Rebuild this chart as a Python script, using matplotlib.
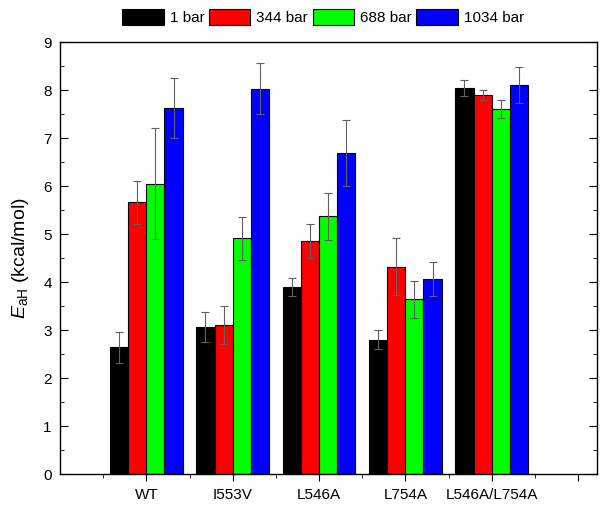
import numpy as np
import matplotlib
matplotlib.use('Agg')
from matplotlib import pyplot as plt
from matplotlib.ticker import MultipleLocator, FixedLocator

plt.rcParams['font.family'] = ['Liberation Sans', 'DejaVu Sans']
plt.rcParams['mathtext.fontset'] = 'custom'
plt.rcParams['mathtext.rm'] = 'Liberation Sans'
plt.rcParams['mathtext.it'] = 'Liberation Sans:italic'

# Data
categories = ['WT', 'I553V', 'L546A', 'L754A', 'L546A/L754A']
series = ['1 bar', '344 bar', '688 bar', '1034 bar']
colors = ['#000000', '#ff0000', '#00ff00', '#0000ff']

bar_1 = [2.64, 3.06, 3.90, 2.80, 8.04]
bar_344 = [5.66, 3.10, 4.86, 4.32, 7.89]
bar_688 = [6.05, 4.91, 5.37, 3.64, 7.60]
bar_1034 = [7.63, 8.03, 6.68, 4.06, 8.10]

err_1 = [0.32, 0.32, 0.19, 0.19, 0.17]
err_344 = [0.45, 0.40, 0.35, 0.60, 0.10]
err_688 = [1.16, 0.45, 0.49, 0.39, 0.19]
err_1034 = [0.63, 0.54, 0.69, 0.36, 0.38]

values = [bar_1, bar_344, bar_688, bar_1034]
errors = [err_1, err_344, err_688, err_1034]

fig = plt.figure(figsize=(6.04, 5.11), dpi=100)
ax = fig.add_axes([60 / 604, 1 - 474 / 511, 537 / 604, 432 / 511])

x = np.arange(1, len(categories) + 1)
width = 0.21
for i, (vals, errs) in enumerate(zip(values, errors)):
    pos = x + (i - 1.5) * width
    ax.bar(pos, vals, width, color=colors[i], edgecolor='black', linewidth=0.8,
           label=series[i], zorder=2)
    ax.errorbar(pos, vals, yerr=errs, fmt='none', ecolor='#606060',
                elinewidth=0.8, capsize=3, capthick=0.8, zorder=3)

ax.set_xlim(0, 6.22)
ax.set_ylim(0, 9)
ax.xaxis.set_major_locator(FixedLocator([1, 2, 3, 4, 5, 6]))
ax.set_xticklabels(categories + [''])
ax.xaxis.set_minor_locator(FixedLocator([0.5, 1.5, 2.5, 3.5, 4.5, 5.5]))
ax.yaxis.set_major_locator(MultipleLocator(1))
ax.yaxis.set_minor_locator(MultipleLocator(0.5))

ax.tick_params(axis='x', which='both', direction='out', top=False, labelsize=11)
ax.tick_params(axis='x', which='major', length=5, pad=5)
ax.tick_params(axis='x', which='minor', length=3)
ax.tick_params(axis='y', which='both', direction='in', right=True, labelsize=11)
ax.tick_params(axis='y', which='major', length=6, pad=6)
ax.tick_params(axis='y', which='minor', length=3)
for s in ax.spines.values():
    s.set_linewidth(1.0)

ax.set_ylabel(r'$E_{\mathrm{aH}}$ (kcal/mol)', fontsize=14, labelpad=9)

fig.legend(loc='upper center', bbox_to_anchor=(0.535, 1.01), ncol=4,
           frameon=False, fontsize=11, handlelength=2.7, handleheight=1.3,
           handletextpad=0.4, columnspacing=0.3)

fig.savefig('out.png', dpi=100)
